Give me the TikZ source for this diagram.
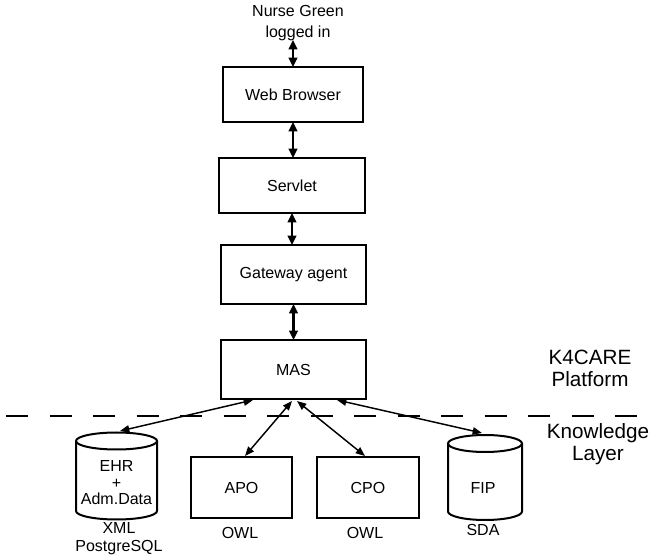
\documentclass[tikz,border=0pt]{standalone}
\usepackage{fontspec}
\setmainfont{Liberation Sans}
\usetikzlibrary{arrows.meta,calc}
\begin{document}
\begin{tikzpicture}[x=0.75pt,y=-0.75pt,
  box/.style={draw,line width=1.5pt,inner sep=0pt,outer sep=0pt,font=\fontsize{12}{14}\selectfont},
  txt/.style={inner sep=0pt,align=center,font=\fontsize{12}{14}\selectfont},
  big/.style={inner sep=0pt,align=center,font=\fontsize{15.5}{16.5}\selectfont},
  vconn/.style={line width=1.6pt,{Triangle[length=7pt,width=6.5pt]}-{Triangle[length=7pt,width=6.5pt]}},
  conn/.style={line width=1.1pt,{Triangle[length=7pt,width=5.5pt]}-{Triangle[length=7pt,width=5.5pt]}},
  cyl/.style={line width=1.5pt}]
\useasboundingbox (0,0) rectangle (651,556);

% top label
\node[txt,font=\fontsize{12}{15.75}\selectfont] (nurse) at (298,23) {Nurse Green\\logged in};
\coordinate (nurseb) at (293,40);

% main stack
\node[box,minimum width=105pt,minimum height=41.25pt] (web) at (293,94.5) {Web Browser};
\node[box,minimum width=109.5pt,minimum height=41.25pt] (servlet) at (292,185.5) {Servlet};
\node[box,minimum width=108.75pt,minimum height=44.25pt] (gw) at (293.5,274.5) {Gateway agent};
\node[box,minimum width=108.75pt,minimum height=44.25pt] (mas) at (293.5,369.5) {MAS};

% bottom boxes
\node[box,minimum width=75.75pt,minimum height=45.75pt] (apo) at (241.5,487.5) {APO};
\node[box,minimum width=76.5pt,minimum height=45.75pt] (cpo) at (368,487.5) {CPO};

% cylinders
\draw[cyl] (116.5,441) ellipse [x radius=30.375pt,y radius=6.375pt];
\draw[cyl] (76,441) -- (76,511) arc[start angle=180,end angle=360,x radius=30.375pt,y radius=6.375pt] -- (157,441);
\node[txt,font=\fontsize{12}{12.4}\selectfont] (ehr) at (116.5,483) {EHR\\+\\Adm.Data};
\coordinate (ehrtop) at (120,431);

\draw[cyl] (485,443.5) ellipse [x radius=27.75pt,y radius=6.375pt];
\draw[cyl] (448,443.5) -- (448,511.5) arc[start angle=180,end angle=360,x radius=27.75pt,y radius=6.375pt] -- (522,443.5);
\node[txt] (fip) at (483,488) {FIP};
\coordinate (fiptop) at (482,433);

% labels under
\node[txt,font=\fontsize{12}{13.5}\selectfont] (xml) at (119,539) {XML\\PostgreSQL};
\node[txt] (owl1) at (240,533) {OWL};
\node[txt] (owl2) at (365,533) {OWL};
\node[txt] (sda) at (483,530) {SDA};

% side labels
\node[big] (k4) at (590,368) {K4CARE\\Platform};
\node[big] (kl) at (598,444) {Knowledge\\Layer};

% dashed separator
\draw[line width=1.5pt,dash pattern=on 16.5pt off 16.125pt] (6,416) -- (640,416);

% vertical connectors
\draw[vconn] (nurseb) -- (web.north);
\draw[vconn] (web.south) -- (web.south |- servlet.north);
\draw[vconn] (servlet.south) -- (servlet.south |- gw.north);
\draw[vconn] (gw.south) -- (mas.north);

% MAS connectors
\draw[conn] ($(mas.south)+(-40.5,1)$) -- (ehrtop);
\draw[conn] ($(mas.south)+(-1.5,2)$) -- ($(apo.north)+(3.5,-1)$);
\draw[conn] ($(mas.south)+(3.5,2)$) -- ($(cpo.north)+(-3,-1)$);
\draw[conn] ($(mas.south)+(43.5,1)$) -- (fiptop);
\end{tikzpicture}
\end{document}
